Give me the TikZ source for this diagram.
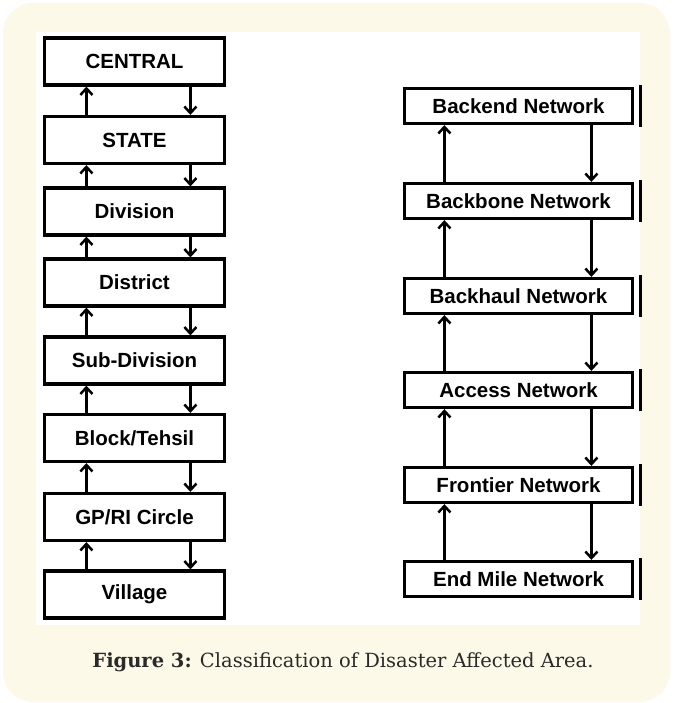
\documentclass[tikz,border=0pt]{standalone}
\usepackage{fontspec}
\setmainfont{DejaVu Serif}
\setsansfont{Liberation Sans}
\usetikzlibrary{arrows.meta}
\definecolor{cardbg}{HTML}{FDF9E8}
\definecolor{captxt}{HTML}{2A2A2A}
\tikzset{
  lbox/.style={draw, line width=3.2pt, fill=white, inner sep=0pt, minimum width=180pt, minimum height=47pt, font=\sffamily\bfseries\fontsize{20.5}{20.5}\selectfont},
  rbox/.style={lbox, minimum width=228pt, minimum height=35pt},
  link/.style={line width=2.5pt, -{Straight Barb[length=6.5pt,width=12pt]}},
  sidebar/.style={line width=3pt, line cap=rect}
}
\begin{document}
\begin{tikzpicture}[x=1pt,y=-1pt]
    \useasboundingbox (0,0) rectangle (674,703);
    % card and picture area
    \fill [cardbg, rounded corners=30pt] (3,3) rectangle (670,702);
    \fill [white] (36,32) rectangle (640,625);

    % left column
    \node [lbox] (central) at (134.5,61.5) { CENTRAL };
    \node [lbox] (state) at (134.5,140) { STATE };
    \node [lbox] (division) at (134.5,211.5) { Division };
    \node [lbox] (district) at (134.5,282.5) { District };
    \node [lbox] (subdiv) at (134.5,360.5) { Sub-Division };
    \node [lbox] (block) at (134.5,438) { Block/Tehsil };
    \node [lbox] (gp) at (134.5,517) { GP/RI Circle };
    \node [lbox] (village) at (134.5,594.5) { Village };

    % right column
    \node [rbox] (backend) at (518.5,106) { Backend Network };
    \node [rbox] (backbone) at (518.5,201) { Backbone Network };
    \node [rbox] (backhaul) at (518.5,296) { Backhaul Network };
    \node [rbox] (access) at (518.5,390) { Access Network };
    \node [rbox] (frontier) at (518.5,485) { Frontier Network };
    \node [rbox] (endmile) at (518.5,579) { End Mile Network };

    % up and down, left column
    \draw [link] ([xshift=43.5pt]state.north west) -- ([xshift=43.5pt]central.south west);
    \draw [link] ([xshift=147.5pt]central.south west) -- ([xshift=147.5pt]state.north west);
    \draw [link] ([xshift=43.5pt]division.north west) -- ([xshift=43.5pt]state.south west);
    \draw [link] ([xshift=147.5pt]state.south west) -- ([xshift=147.5pt]division.north west);
    \draw [link] ([xshift=43.5pt]district.north west) -- ([xshift=43.5pt]division.south west);
    \draw [link] ([xshift=147.5pt]division.south west) -- ([xshift=147.5pt]district.north west);
    \draw [link] ([xshift=43.5pt]subdiv.north west) -- ([xshift=43.5pt]district.south west);
    \draw [link] ([xshift=147.5pt]district.south west) -- ([xshift=147.5pt]subdiv.north west);
    \draw [link] ([xshift=43.5pt]block.north west) -- ([xshift=43.5pt]subdiv.south west);
    \draw [link] ([xshift=147.5pt]subdiv.south west) -- ([xshift=147.5pt]block.north west);
    \draw [link] ([xshift=43.5pt]gp.north west) -- ([xshift=43.5pt]block.south west);
    \draw [link] ([xshift=147.5pt]block.south west) -- ([xshift=147.5pt]gp.north west);
    \draw [link] ([xshift=43.5pt]village.north west) -- ([xshift=43.5pt]gp.south west);
    \draw [link] ([xshift=147.5pt]gp.south west) -- ([xshift=147.5pt]village.north west);

    % up and down, right column
    \draw [link] ([xshift=41.5pt]backbone.north west) -- ([xshift=41.5pt]backend.south west);
    \draw [link] ([xshift=188.5pt]backend.south west) -- ([xshift=188.5pt]backbone.north west);
    \draw [link] ([xshift=41.5pt]backhaul.north west) -- ([xshift=41.5pt]backbone.south west);
    \draw [link] ([xshift=188.5pt]backbone.south west) -- ([xshift=188.5pt]backhaul.north west);
    \draw [link] ([xshift=41.5pt]access.north west) -- ([xshift=41.5pt]backhaul.south west);
    \draw [link] ([xshift=188.5pt]backhaul.south west) -- ([xshift=188.5pt]access.north west);
    \draw [link] ([xshift=41.5pt]frontier.north west) -- ([xshift=41.5pt]access.south west);
    \draw [link] ([xshift=188.5pt]access.south west) -- ([xshift=188.5pt]frontier.north west);
    \draw [link] ([xshift=41.5pt]endmile.north west) -- ([xshift=41.5pt]frontier.south west);
    \draw [link] ([xshift=188.5pt]frontier.south west) -- ([xshift=188.5pt]endmile.north west);

    % bars beside the right boxes
    \draw [sidebar] ([xshift=6pt]backend.north east) -- ([xshift=6pt]backend.south east);
    \draw [sidebar] ([xshift=6pt]backbone.north east) -- ([xshift=6pt]backbone.south east);
    \draw [sidebar] ([xshift=6pt]backhaul.north east) -- ([xshift=6pt]backhaul.south east);
    \draw [sidebar] ([xshift=6pt]access.north east) -- ([xshift=6pt]access.south east);
    \draw [sidebar] ([xshift=6pt]frontier.north east) -- ([xshift=6pt]frontier.south east);
    \draw [sidebar] ([xshift=6pt]endmile.north east) -- ([xshift=6pt]endmile.south east);

    % caption
    \node [text=captxt, font=\fontsize{19.5}{19.5}\selectfont] (caption) at (343,662) {\textbf{Figure 3:} Classification of Disaster Affected Area.};
\end{tikzpicture}
\end{document}
